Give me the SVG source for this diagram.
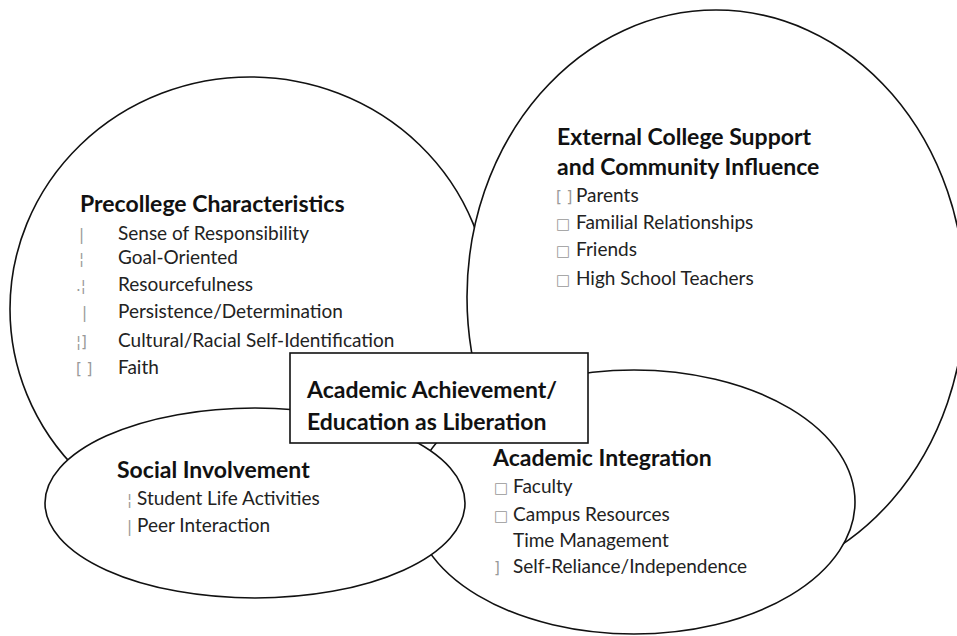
<svg xmlns="http://www.w3.org/2000/svg" width="957" height="636" viewBox="0 0 957 636">
<style>
.shape{fill:#fff;stroke:#111;stroke-width:1.6}
.title{font-family:Lato,"Liberation Sans",sans-serif;font-weight:bold;font-size:23px;fill:#111}
.item{font-family:Lato,"Liberation Sans",sans-serif;font-size:19px;fill:#222}
.bul{font-family:"DejaVu Sans",sans-serif;font-size:15px;fill:#999}
.center{font-family:Lato,"Liberation Sans",sans-serif;font-weight:bold;font-size:23px;fill:#111}
</style>
<rect width="957" height="636" fill="#fff"/>
<g id="precollege">
<ellipse class="shape" cx="250" cy="309" rx="240" ry="232"/>
</g>
<g id="external">
<ellipse class="shape" cx="716" cy="297" rx="249" ry="287"/>
</g>
<g id="academic-integration">
<ellipse class="shape" cx="634" cy="502" rx="221" ry="132"/>
</g>
<g id="social">
<ellipse class="shape" cx="255" cy="503" rx="210" ry="95"/>
</g>
<g id="center">
<rect class="shape" x="290" y="353" width="298" height="90"/>
<text class="center" x="307" y="398">Academic Achievement/</text>
<text class="center" x="307" y="430">Education as Liberation</text>
</g>
<g id="precollege-text">
<text class="title" x="80" y="212">Precollege Characteristics</text>
<text class="bul" x="79" y="240">|</text>
<text class="item" x="118" y="240">Sense of Responsibility</text>
<text class="bul" x="79" y="264">¦</text>
<text class="item" x="118" y="264">Goal-Oriented</text>
<text class="bul" x="76" y="291">.¦</text>
<text class="item" x="118" y="291">Resourcefulness</text>
<text class="bul" x="82" y="318">|</text>
<text class="item" x="118" y="318">Persistence/Determination</text>
<text class="bul" x="76" y="347">¦]</text>
<text class="item" x="118" y="347">Cultural/Racial Self-Identification</text>
<text class="bul" x="76" y="374">[ ]</text>
<text class="item" x="118" y="374">Faith</text>
</g>
<g id="external-text">
<text class="title" x="557" y="145">External College Support</text>
<text class="title" x="557" y="175">and Community Influence</text>
<text class="bul" x="556" y="202">[ ]</text>
<text class="item" x="576" y="202">Parents</text>
<text class="bul" x="556" y="229">□</text>
<text class="item" x="576" y="229">Familial Relationships</text>
<text class="bul" x="556" y="256">□</text>
<text class="item" x="576" y="256">Friends</text>
<text class="bul" x="556" y="285">□</text>
<text class="item" x="576" y="285">High School Teachers</text>
</g>
<g id="social-text">
<text class="title" x="117" y="478">Social Involvement</text>
<text class="bul" x="127" y="505">¦</text>
<text class="item" x="137" y="505">Student Life Activities</text>
<text class="bul" x="127" y="532">|</text>
<text class="item" x="137" y="532">Peer Interaction</text>
</g>
<g id="academic-text">
<text class="title" x="493" y="466">Academic Integration</text>
<text class="bul" x="494" y="493">□</text>
<text class="item" x="513" y="493">Faculty</text>
<text class="bul" x="494" y="521">□</text>
<text class="item" x="513" y="521">Campus Resources</text>
<text class="item" x="513" y="547">Time Management</text>
<text class="bul" x="494" y="573">]</text>
<text class="item" x="513" y="573">Self-Reliance/Independence</text>
</g>
</svg>
